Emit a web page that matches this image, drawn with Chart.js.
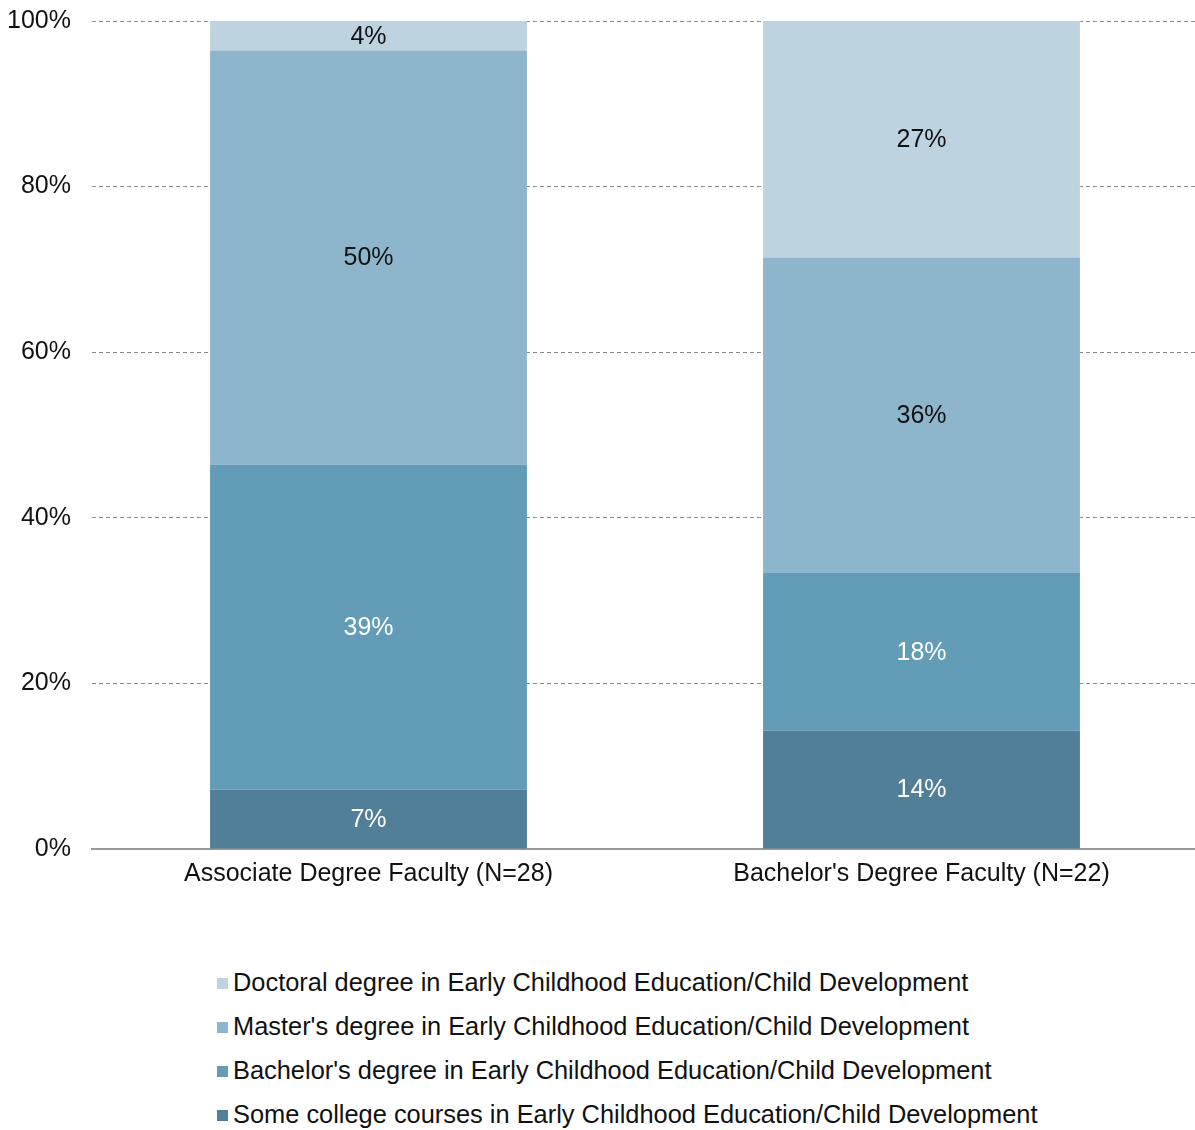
<!DOCTYPE html>
<html>
<head>
<meta charset="utf-8">
<script src="https://cdn.jsdelivr.net/npm/chart.js@4"></script>
<style>
  body { margin: 0; background: #fff; font-family: "Liberation Sans", Arial, sans-serif; overflow: hidden; }
  #wrap { position: relative; width: 1195px; height: 1130px; overflow: hidden; }
  #chart-box { position: absolute; left: 0; top: -15px; width: 1198px; height: 924px; }
  #legend { position: absolute; left: 217px; top: 960px; }
  .legend-row { display: flex; align-items: center; height: 44px; font-size: 25.4px; color: #111; }
  .legend-swatch { width: 11px; height: 11px; margin-right: 5px; margin-top: 3px; }
</style>
</head>
<body>
<div id="wrap">
  <div id="chart-box"><canvas id="chart" width="1198" height="924"></canvas></div>
  <div id="legend"></div>
</div>
<script>
// categories and sample sizes
const categories = ['Associate Degree Faculty (N=28)', "Bachelor's Degree Faculty (N=22)"];
const sampleSizes = [28, 22];

// series (bottom of stack first), counts of faculty per category
const seriesNames = [
    'Some college courses in Early Childhood Education/Child Development',
    "Bachelor's degree in Early Childhood Education/Child Development",
    "Master's degree in Early Childhood Education/Child Development",
    'Doctoral degree in Early Childhood Education/Child Development'
];
const someCollege = [2, 3];
const bachelors = [11, 4];
const masters = [14, 8];
const doctoral = [1, 6];

const seriesColors = ['#517f98', '#629cb6', '#8db6cc', '#bdd3e0'];
const labelColors = ['#ffffff', '#ffffff', '#111111', '#111111'];

const yTicks = [0, 20, 40, 60, 80, 100];

const FONT = '"Liberation Sans", Arial, sans-serif';

const seriesCounts = [someCollege, bachelors, masters, doctoral];
// bars are stacked to 100% of the respondents per group
const totals = categories.map((_, i) => seriesCounts.reduce((s, arr) => s + arr[i], 0));

const datasets = seriesCounts.map((counts, k) => ({
    label: seriesNames[k],
    data: counts.map((c, i) => c / totals[i] * 100),
    counts: counts,
    backgroundColor: seriesColors[k],
    labelColor: labelColors[k],
    borderWidth: 0,
    categoryPercentage: 1.0,
    barPercentage: 0.573
}));

// draws the percentage text inside each segment
const segmentLabels = {
    id: 'segmentLabels',
    afterDatasetsDraw(chart) {
        const ctx = chart.ctx;
        ctx.save();
        ctx.font = '25px ' + FONT;
        ctx.textAlign = 'center';
        ctx.textBaseline = 'middle';
        chart.data.datasets.forEach((ds, k) => {
            const meta = chart.getDatasetMeta(k);
            meta.data.forEach((bar, i) => {
                const pct = Math.round(ds.counts[i] / sampleSizes[i] * 100);
                const mid = (bar.y + bar.base) / 2;
                ctx.fillStyle = ds.labelColor;
                ctx.fillText(pct + '%', bar.x, mid + 1);
            });
        });
        ctx.restore();
    }
};

const chart = new Chart(document.getElementById('chart'), {
    type: 'bar',
    data: { labels: categories, datasets: datasets },
    options: {
        responsive: false,
        animation: false,
        layout: { padding: { left: 8, right: 0, top: 0, bottom: 10 } },
        plugins: {
            legend: { display: false },
            tooltip: { enabled: false }
        },
        scales: {
            x: {
                stacked: true,
                grid: { display: false, drawTicks: false },
                border: { display: true, color: '#999999', width: 2 },
                ticks: { color: '#111', font: { family: FONT, size: 25 }, padding: 10 }
            },
            y: {
                stacked: true,
                min: 0,
                max: 100,
                afterBuildTicks(axis) { axis.ticks = yTicks.map(v => ({ value: v })); },
                afterFit(axis) { axis.width = 84; },
                grid: { color: '#8a8a8a', lineWidth: 1, drawTicks: false },
                border: { display: false, dash: [4, 3] },
                ticks: {
                    color: '#111',
                    font: { family: FONT, size: 25 },
                    padding: 21,
                    callback: v => v + '%'
                }
            }
        }
    },
    plugins: [segmentLabels]
});

// legend, top entry is the top of the stack
const legendBox = document.getElementById('legend');
for (let k = seriesNames.length - 1; k >= 0; k--) {
    const row = document.createElement('div');
    row.className = 'legend-row';
    const sw = document.createElement('span');
    sw.className = 'legend-swatch';
    sw.style.background = seriesColors[k];
    const txt = document.createElement('span');
    txt.textContent = seriesNames[k];
    row.appendChild(sw);
    row.appendChild(txt);
    legendBox.appendChild(row);
}
</script>
</body>
</html>
